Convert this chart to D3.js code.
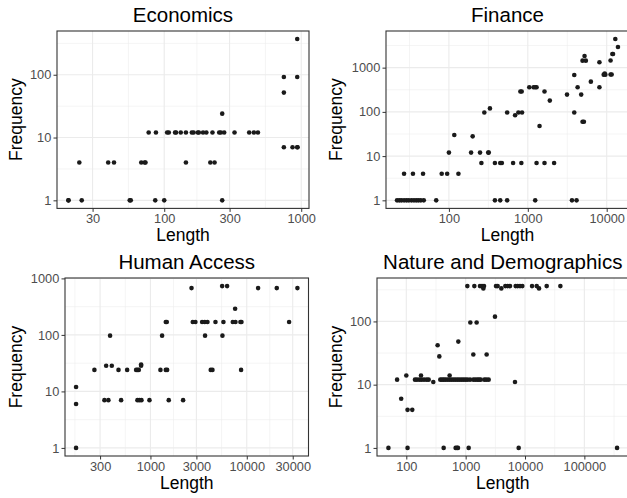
<!DOCTYPE html>
<html>
<head>
<meta charset="utf-8">
<script src="https://cdn.jsdelivr.net/npm/d3@7"></script>
<style>
  body { margin: 0; background: #fff; }
  text { font-family: "Liberation Sans", Arial, sans-serif; }
</style>
</head>
<body>
<svg id="chart" width="627" height="498"></svg>
<script>
// Economics
const econLength = [20, 20, 25, 56, 57, 86, 100, 265,
  24, 39, 43, 68, 72, 73, 144, 217, 233,
  77, 87, 105, 108, 120, 122, 132, 144, 159, 164, 176, 179, 192, 203, 225, 252, 259, 274, 326, 417, 451, 483,
  265, 747, 864, 935, 940, 747, 747, 935, 935];
const econFreq = [1, 1, 1, 1, 1, 1, 1, 1,
  4, 4, 4, 4, 4, 4, 4, 4, 4,
  12, 12, 12, 12, 12, 12, 12, 12, 12, 12, 12, 12, 12, 12, 12, 12, 12, 12, 12, 12, 12, 12,
  24, 7, 7, 7, 7, 52, 92, 92, 370];

// Finance
const finLength = [22, 23.5, 25, 27, 29, 31, 33.5, 36, 38.5, 41, 44, 48, 69, 383, 447, 547, 1241, 3630, 4150,
  27, 35, 47, 81, 95, 132,
  100, 191, 248, 315, 320,
  258, 383, 447, 469, 651, 828, 1291, 1628, 2155,
  117, 200, 281, 547, 759, 845, 690, 331,
  805, 836, 1628, 1044, 1184, 1241, 1291, 4280, 8090,
  1409, 1900, 3140, 4750, 3880, 3880, 4940, 5140, 4940, 5440, 5240, 6300, 8090,
  9160, 9610, 9440, 11200, 11560, 11200, 11790, 12030, 12860, 13890];
const finFreq = [1, 1, 1, 1, 1, 1, 1, 1, 1, 1, 1, 1, 1, 1, 1, 1, 1, 1, 1,
  4, 4, 4, 4, 4, 4,
  12, 12, 12, 12, 12,
  7, 7, 7, 7, 7, 7, 7, 7, 7,
  30, 28, 97, 97, 97, 97, 84, 120,
  290, 290, 290, 360, 360, 360, 360, 360, 360,
  48, 180, 246, 246, 683, 97, 60, 60, 1440, 1440, 1830, 483, 1320,
  695, 695, 732, 700, 700, 1450, 2030, 2030, 4430, 2925];

// Human Access
const humLength = [169, 169, 169, 262, 347, 397, 381, 333, 366, 466, 496, 573, 710, 733, 757, 800, 800,
  733, 769, 807, 977, 1270, 1321, 1443, 1478, 1443, 1490, 1549, 2183, 2669, 2750, 2930,
  3437, 3664, 3908, 3690, 4227, 4403, 4731, 5550, 6250, 5590, 5725, 7160, 7630, 8590, 8810,
  7570, 8730, 13110, 20480, 27500, 33570];
const humFreq = [1, 6, 12, 24, 28.5, 28.5, 97, 7, 7, 24, 7, 24, 24, 24, 24, 28.5, 30,
  7, 7, 7, 7, 24, 97, 169, 169, 24, 24, 7, 7, 674, 169, 169,
  169, 169, 169, 97, 24, 24, 169, 731, 731, 97, 169, 169, 169, 169, 169,
  290, 24, 674, 674, 169, 674];

// Nature and Demographics
const natLength = [50, 105, 426, 678, 714, 742, 1124, 7820, 355600,
  70, 140, 151, 166, 181, 199, 220, 238,
  374, 399, 426, 454, 491, 531, 573, 620, 670, 725, 782, 846, 914, 987, 1067, 1183,
  1346, 1455, 1573, 1680, 1792, 2065, 2230, 2440,
  100, 177, 537, 285, 6780, 82, 105, 126, 337, 360, 752, 1199, 1531, 1346, 2258, 3120,
  1067, 1400, 1744, 1885, 2038, 3245, 3460, 4660, 5100, 5590, 6960, 7520, 8240, 9020, 13130, 15740, 23190, 39430,
  1987, 3990, 17230];
const natFreq = [1, 1, 1, 1, 1, 1, 1, 1, 1,
  12, 12, 12, 12, 12, 12, 12, 12,
  12, 12, 12, 12, 12, 12, 12, 12, 12, 12, 12, 12, 12, 12, 12, 12,
  12, 12, 12, 12, 12, 12, 12, 12,
  14, 14, 14, 11, 11, 6, 4, 4, 42, 28, 48, 96, 96, 30, 30, 119,
  362, 362, 362, 362, 362, 362, 362, 362, 362, 362, 362, 362, 362, 362, 362, 362, 362, 362,
  333, 333, 333];

// ticks
const econXTicks = [30, 100, 300, 1000], econYTicks = [1, 10, 100];
const finXTicks = [100, 1000, 10000], finYTicks = [1, 10, 100, 1000];
const humXTicks = [300, 1000, 3000, 10000, 30000], humYTicks = [1, 10, 100, 1000];
const natXTicks = [100, 1000, 10000, 100000], natYTicks = [1, 10, 100];

const panels = [
  { title: 'Economics', xs: econLength, ys: econFreq, xt: econXTicks, yt: econYTicks, l: 57, r: 309, t: 31, b: 208.4, ylabX: 21.5 },
  { title: 'Finance', xs: finLength, ys: finFreq, xt: finXTicks, yt: finYTicks, l: 386, r: 629, t: 31, b: 208.4, ylabX: 342 },
  { title: 'Human Access', xs: humLength, ys: humFreq, xt: humXTicks, yt: humYTicks, l: 65, r: 308.5, t: 278, b: 456, ylabX: 21.5 },
  { title: 'Nature and Demographics', xs: natLength, ys: natFreq, xt: natXTicks, yt: natYTicks, l: 377, r: 628.5, t: 278, b: 456, ylabX: 342 }
];

const svg = d3.select('#chart');

// ggplot-style log domain with 5% expansion
function logDomain(vals) {
  const lo = Math.log10(d3.min(vals)), hi = Math.log10(d3.max(vals));
  const pad = (hi - lo) * 0.05;
  return [Math.pow(10, lo - pad), Math.pow(10, hi + pad)];
}

// minor breaks halfway between majors (in log space), like ggplot
function minorBreaks(ticks, domain) {
  let b = ticks.map(Math.log10);
  const lim = domain.map(Math.log10);
  const bd = b[1] - b[0];
  if (lim[0] < b[0]) b = [b[0] - bd, ...b];
  if (lim[1] > b[b.length - 1]) b = [...b, b[b.length - 1] + bd];
  const out = [];
  for (let i = 0; i < b.length - 1; i++) out.push((b[i] + b[i + 1]) / 2);
  return out.filter(v => v >= lim[0] && v <= lim[1]).map(v => Math.pow(10, v));
}

function drawPanel(p) {
  const x = d3.scaleLog().domain(logDomain(p.xs)).range([p.l, p.r]);
  const y = d3.scaleLog().domain(logDomain(p.ys)).range([p.b, p.t]);
  const g = svg.append('g');

  g.append('rect').attr('x', p.l).attr('y', p.t).attr('width', p.r - p.l).attr('height', p.b - p.t).attr('fill', '#fff');

  // grid
  g.selectAll('.xminor').data(minorBreaks(p.xt, x.domain())).join('line')
    .attr('x1', d => x(d)).attr('x2', d => x(d)).attr('y1', p.t).attr('y2', p.b)
    .attr('stroke', '#ebebeb').attr('stroke-width', 0.55);
  g.selectAll('.yminor').data(minorBreaks(p.yt, y.domain())).join('line')
    .attr('y1', d => y(d)).attr('y2', d => y(d)).attr('x1', p.l).attr('x2', p.r)
    .attr('stroke', '#ebebeb').attr('stroke-width', 0.55);
  g.selectAll('.xmajor').data(p.xt).join('line')
    .attr('x1', d => x(d)).attr('x2', d => x(d)).attr('y1', p.t).attr('y2', p.b)
    .attr('stroke', '#ebebeb').attr('stroke-width', 1.1);
  g.selectAll('.ymajor').data(p.yt).join('line')
    .attr('y1', d => y(d)).attr('y2', d => y(d)).attr('x1', p.l).attr('x2', p.r)
    .attr('stroke', '#ebebeb').attr('stroke-width', 1.1);

  // points
  g.selectAll('circle').data(p.xs.map((v, i) => [v, p.ys[i]])).join('circle')
    .attr('cx', d => x(d[0])).attr('cy', d => y(d[1])).attr('r', 2.3).attr('fill', '#1a1a1a');

  g.append('rect').attr('x', p.l).attr('y', p.t).attr('width', p.r - p.l).attr('height', p.b - p.t)
    .attr('fill', 'none').attr('stroke', '#333').attr('stroke-width', 1.1);

  // axes
  const xa = g.append('g').attr('transform', `translate(0,${p.b})`)
    .call(d3.axisBottom(x).tickValues(p.xt).tickFormat(d3.format('d')).tickSize(3.5).tickPadding(2));
  const ya = g.append('g').attr('transform', `translate(${p.l},0)`)
    .call(d3.axisLeft(y).tickValues(p.yt).tickFormat(d3.format('d')).tickSize(3.5).tickPadding(2.2));
  [xa, ya].forEach(a => {
    a.select('.domain').remove();
    a.selectAll('line').attr('stroke', '#333');
    a.selectAll('text').attr('fill', '#4d4d4d').style('font-size', '12.8px');
  });

  // titles
  g.append('text').attr('x', (p.l + p.r) / 2).attr('y', p.t - 9.5).attr('text-anchor', 'middle')
    .style('font-size', '20.5px').attr('fill', '#000').text(p.title);
  g.append('text').attr('x', (p.l + p.r) / 2).attr('y', p.b + 32.5).attr('text-anchor', 'middle')
    .style('font-size', '17.5px').attr('fill', '#000').text('Length');
  g.append('text').attr('transform', `translate(${p.ylabX},${(p.t + p.b) / 2}) rotate(-90)`)
    .attr('text-anchor', 'middle').style('font-size', '17.5px').attr('fill', '#000').text('Frequency');
}

panels.forEach(drawPanel);
</script>
</body>
</html>
